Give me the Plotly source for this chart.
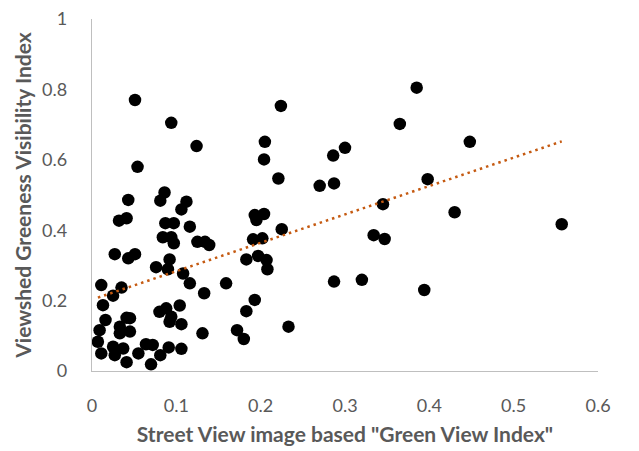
import numpy as np
import plotly.graph_objects as go

# Street View "Green View Index" (x) vs viewshed Greeness Visibility Index (y)
gvi = [
    0.051, 0.094, 0.054, 0.086, 0.081, 0.043, 0.041, 0.032, 0.106, 0.112,
    0.087, 0.097, 0.116, 0.084, 0.094, 0.097, 0.027, 0.043, 0.051, 0.092,
    0.076, 0.090, 0.125, 0.134, 0.139, 0.124,
    0.108, 0.116, 0.159, 0.133, 0.104, 0.094, 0.080, 0.088, 0.092, 0.106,
    0.131, 0.172, 0.180, 0.091, 0.106, 0.193, 0.183, 0.233,
    0.193, 0.204, 0.195, 0.191, 0.202, 0.183, 0.197, 0.207, 0.208, 0.225,
    0.221, 0.204, 0.205, 0.224,
    0.385, 0.365, 0.300, 0.286, 0.270, 0.287, 0.398, 0.448, 0.345, 0.430,
    0.334, 0.347, 0.287, 0.320, 0.394, 0.557,
    0.011, 0.035, 0.025, 0.013, 0.016, 0.041, 0.045, 0.033, 0.009, 0.045,
    0.033, 0.007, 0.011, 0.025, 0.037, 0.027, 0.041, 0.055, 0.064, 0.072,
    0.081, 0.070,
]
gvsi = [
    0.770, 0.705, 0.580, 0.507, 0.484, 0.486, 0.434, 0.427, 0.459, 0.481,
    0.420, 0.420, 0.410, 0.380, 0.380, 0.363, 0.332, 0.320, 0.332, 0.317,
    0.295, 0.289, 0.367, 0.367, 0.358, 0.639,
    0.277, 0.249, 0.249, 0.221, 0.186, 0.154, 0.168, 0.178, 0.140, 0.133,
    0.107, 0.116, 0.091, 0.067, 0.063, 0.202, 0.170, 0.126,
    0.443, 0.446, 0.429, 0.374, 0.377, 0.317, 0.327, 0.315, 0.289, 0.403,
    0.547, 0.601, 0.651, 0.753,
    0.805, 0.702, 0.634, 0.612, 0.526, 0.533, 0.545, 0.651, 0.474, 0.451,
    0.386, 0.375, 0.254, 0.259, 0.230, 0.417,
    0.244, 0.237, 0.214, 0.187, 0.145, 0.151, 0.150, 0.126, 0.116, 0.112,
    0.107, 0.083, 0.050, 0.069, 0.064, 0.045, 0.025, 0.050, 0.076, 0.074,
    0.045, 0.019,
]

x_ticks = [0, 0.1, 0.2, 0.3, 0.4, 0.5, 0.6]
x_tick_labels = ["0", "0.1", "0.2", "0.3", "0.4", "0.5", "0.6"]
y_ticks = [0, 0.2, 0.4, 0.6, 0.8, 1.0]
y_tick_labels = ["0", "0.2", "0.4", "0.6", "0.8", "1"]

x_arr = np.array(gvi)
y_arr = np.array(gvsi)
slope, intercept = np.polyfit(x_arr, y_arr, 1)
trend_x = np.array([x_arr.min(), x_arr.max()])
trend_y = slope * trend_x + intercept

FONT = "Lato, 'Open Sans', sans-serif"
GREY = "#595959"

fig = go.Figure()
fig.add_trace(go.Scatter(
    x=gvi, y=gvsi, mode="markers",
    marker=dict(size=12.5, color="black", line=dict(width=0)),
    showlegend=False, hoverinfo="x+y",
))
fig.add_trace(go.Scatter(
    x=trend_x, y=trend_y, mode="lines",
    line=dict(color="#C55A11", width=2.5, dash="2.5px,4px"),
    showlegend=False, hoverinfo="skip",
))

fig.update_layout(
    width=639, height=451,
    margin=dict(l=92, r=41, t=19, b=80),
    paper_bgcolor="white", plot_bgcolor="white",
    font=dict(family=FONT, color=GREY, size=18),
    xaxis=dict(
        range=[0, 0.6], tickvals=x_ticks, ticktext=x_tick_labels,
        showgrid=False, zeroline=False, showline=True, automargin=False,
        linecolor="#BFBFBF", linewidth=1.3, ticks="", ticklen=0,
        ticklabelstandoff=18,
        tickfont=dict(size=18, color=GREY, family=FONT),
        title=dict(text="<b>Street View image based \"Green View Index\"</b>",
                   font=dict(size=21, color=GREY, family=FONT), standoff=12),
    ),
    yaxis=dict(
        range=[0, 1], tickvals=y_ticks, ticktext=y_tick_labels,
        showgrid=False, zeroline=False, showline=True, automargin=False,
        linecolor="#BFBFBF", linewidth=1.3, ticks="", ticklen=0,
        ticklabelstandoff=20,
        tickfont=dict(size=18, color=GREY, family=FONT),
        title=dict(text="<b>Viewshed Greeness Visibility Index</b>",
                   font=dict(size=21, color=GREY, family=FONT), standoff=4),
    ),
)

fig.write_html("out.html", config={"displayModeBar": False},
               post_script="document.body.style.margin='0px';")
